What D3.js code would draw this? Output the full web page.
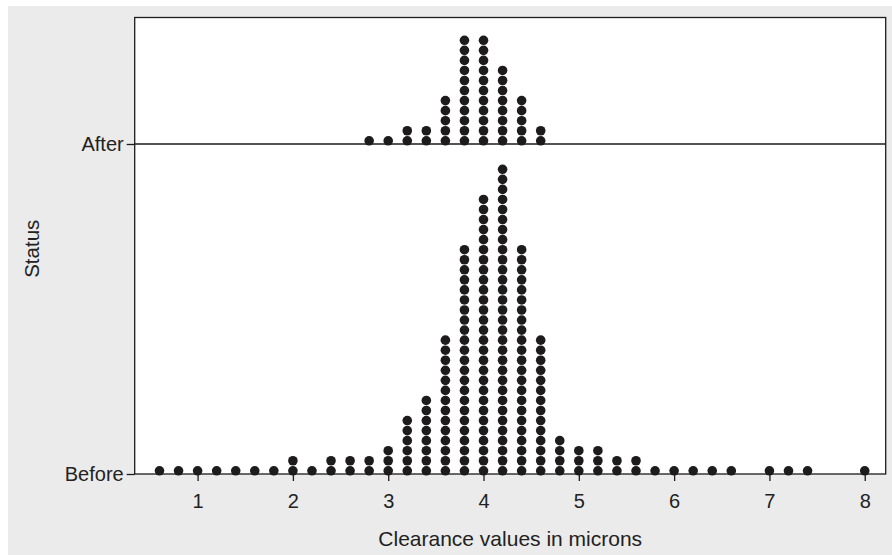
<!DOCTYPE html>
<html>
<head>
<meta charset="utf-8">
<script src="https://cdn.jsdelivr.net/npm/d3@7/dist/d3.min.js"></script>
<style>
  html, body { margin: 0; padding: 0; background: #ffffff; }
  svg { display: block; font-family: "Liberation Sans", Arial, Helvetica, sans-serif; }
</style>
</head>
<body>
<svg id="chart" width="892" height="555"></svg>
<script>
// Status groups, bottom to top
const statusLevels = ["Before", "After"];

// Clearance values (microns) and how many parts fall on each value
const beforeValues = [0.6, 0.8, 1.0, 1.2, 1.4, 1.6, 1.8, 2.0, 2.2, 2.4, 2.6, 2.8, 3.0, 3.2, 3.4,
                      3.6, 3.8, 4.0, 4.2, 4.4, 4.6, 4.8, 5.0, 5.2, 5.4, 5.6, 5.8, 6.0, 6.2, 6.4,
                      6.6, 7.0, 7.2, 7.4, 8.0];
const beforeCounts = [1, 1, 1, 1, 1, 1, 1, 2, 1, 2, 2, 2, 3, 6, 8,
                      14, 23, 28, 31, 23, 14, 4, 3, 3, 2, 2, 1, 1, 1, 1,
                      1, 1, 1, 1, 1];

const afterValues = [2.8, 3.0, 3.2, 3.4, 3.6, 3.8, 4.0, 4.2, 4.4, 4.6];
const afterCounts = [1, 1, 2, 2, 5, 11, 11, 8, 5, 2];

const xTickValues = [1, 2, 3, 4, 5, 6, 7, 8];

const svg = d3.select("#chart");
const W = 892, H = 555;
const plot = { left: 134.7, right: 885.7, top: 17.5, bottom: 474 };
const ink = "#1d1b1c";
const textColor = "#222222";

// Outer grey panel
svg.append("rect")
  .attr("x", 8).attr("y", 6)
  .attr("width", W - 8).attr("height", H - 6)
  .attr("fill", "#ebebeb");

// Plot region
svg.append("rect")
  .attr("x", plot.left).attr("y", plot.top)
  .attr("width", plot.right - plot.left).attr("height", plot.bottom - plot.top)
  .attr("fill", "#ffffff");

const x = d3.scaleLinear().domain([0.34, 8.22]).range([plot.left, plot.right]);
const y = d3.scalePoint().domain(statusLevels).range([plot.bottom, 144]).padding(0);

// Stacked dots: one circle per observation
const dotGap = 10.05, dotR = 4.8, baseOffset = 3.2;
function stack(values, counts, status) {
  const out = [];
  values.forEach((v, i) => {
    for (let k = 0; k < counts[i]; k++) out.push({ v, k, status });
  });
  return out;
}
const dots = stack(beforeValues, beforeCounts, "Before")
  .concat(stack(afterValues, afterCounts, "After"));

// Reference line for the upper group
svg.append("line")
  .attr("x1", plot.left).attr("x2", plot.right)
  .attr("y1", y("After")).attr("y2", y("After"))
  .attr("stroke", ink).attr("stroke-width", 1.3);

svg.append("g")
  .selectAll("circle")
  .data(dots)
  .join("circle")
  .attr("cx", d => x(d.v))
  .attr("cy", d => y(d.status) - baseOffset - d.k * dotGap)
  .attr("r", dotR)
  .attr("fill", ink);

// Frame
svg.append("rect")
  .attr("x", plot.left).attr("y", plot.top)
  .attr("width", plot.right - plot.left).attr("height", plot.bottom - plot.top)
  .attr("fill", "none")
  .attr("stroke", ink).attr("stroke-width", 1.3);

// X axis
const xAxis = svg.append("g")
  .attr("transform", `translate(0,${plot.bottom})`)
  .call(d3.axisBottom(x).tickValues(xTickValues).tickSize(7).tickPadding(13).tickFormat(d3.format("d")));
xAxis.select(".domain").remove();
xAxis.selectAll(".tick line").attr("stroke", ink).attr("stroke-width", 1.3);
xAxis.selectAll(".tick text")
  .attr("fill", textColor).attr("font-size", 20)
  .attr("font-family", "Liberation Sans, Arial, sans-serif");

// Y axis
const yAxis = svg.append("g")
  .attr("transform", `translate(${plot.left},0)`)
  .call(d3.axisLeft(y).tickSize(8).tickPadding(3));
yAxis.select(".domain").remove();
yAxis.selectAll(".tick line").attr("stroke", ink).attr("stroke-width", 1.3);
yAxis.selectAll(".tick text")
  .attr("fill", textColor).attr("font-size", 20)
  .attr("font-family", "Liberation Sans, Arial, sans-serif");

// Axis titles
svg.append("text")
  .attr("x", (plot.left + plot.right) / 2).attr("y", 545.5)
  .attr("text-anchor", "middle")
  .attr("font-size", 21).attr("fill", textColor)
  .text("Clearance values in microns");

svg.append("text")
  .attr("transform", `translate(39,${(plot.top + plot.bottom) / 2 + 3}) rotate(-90)`)
  .attr("text-anchor", "middle")
  .attr("font-size", 20.5).attr("fill", textColor)
  .text("Status");
</script>
</body>
</html>
